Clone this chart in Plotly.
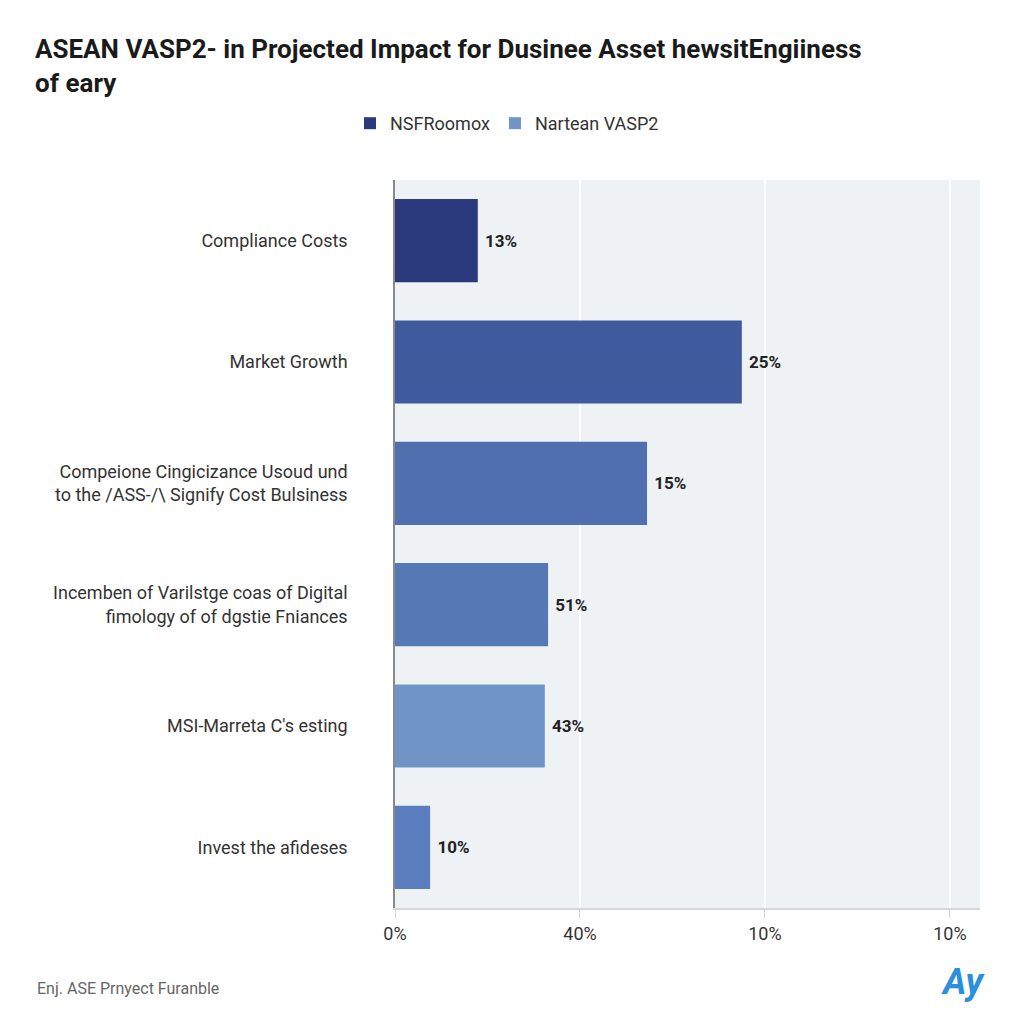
import plotly.graph_objects as go

# ---- data ----
categories = [
    "Compliance Costs",
    "Market Growth",
    "Compeione Cingicizance Usoud und<br>to the /ASS-/\\ Signify Cost Bulsiness",
    "Incemben of Varilstge coas of Digital<br>fimology of of dgstie Fniances",
    "MSI-Marreta C's esting",
    "Invest the afideses",
]
values = [17.9, 75.0, 54.5, 33.1, 32.4, 7.6]
value_labels = ["13%", "25%", "15%", "51%", "43%", "10%"]
series_names = ["NSFRoomox", "Nartean VASP2"]
series_of_bar = [0, 0, 0, 0, 1, 1]
bar_colors = ["#2b3a7d", "#3f5a9d", "#4f6fae", "#5579b4", "#7094c5", "#5a7ebe"]
tick_vals = [0, 40, 80, 120]
tick_text = ["0%", "40%", "10%", "10%"]

title_text = "ASEAN VASP2- in Projected Impact for Dusinee Asset hewsitEngiiness<br>of eary"
footnote = "Enj. ASE Prnyect Furanble"

fig = go.Figure()
for s, name in enumerate(series_names):
    idx = [i for i, k in enumerate(series_of_bar) if k == s]
    fig.add_trace(go.Bar(
        name=name,
        orientation="h",
        y=[categories[i] for i in idx],
        x=[values[i] for i in idx],
        text=["&nbsp;" + value_labels[i] for i in idx],
        textposition="outside",
        cliponaxis=False,
        textfont=dict(family="Roboto", size=17, color="#222222", weight="bold"),
        marker=dict(color=[bar_colors[i] for i in idx], line=dict(width=0)),
        width=0.685,
    ))

fig.update_layout(
    width=1024, height=1024,
    barmode="relative",
    paper_bgcolor="white",
    plot_bgcolor="#eff2f5",
    margin=dict(l=395, r=44, t=180, b=116),
    font=dict(family="Roboto", color="#333333"),
    title=dict(
        text=title_text,
        x=35 / 1024, xanchor="left",
        y=1 - 58 / 1024, yanchor="top",
        font=dict(family="Roboto", size=26, color="#1a1a1a", weight="bold"),
    ),
    legend=dict(
        orientation="h",
        xref="container", yref="container",
        x=350 / 1024, y=1 - 105 / 1024,
        xanchor="left", yanchor="top",
        font=dict(family="Roboto", size=18, color="#333333"),
        traceorder="normal",
        itemwidth=30,
    ),
    showlegend=True,
)

fig.update_xaxes(
    range=[0, 126.5],
    tickvals=tick_vals, ticktext=tick_text,
    showgrid=True, gridcolor="#ffffff", gridwidth=2,
    zeroline=False,
    showline=True, linecolor="#d4d6d9", linewidth=2,
    ticks="outside", ticklen=8, tickcolor="#d4d6d9",
    tickfont=dict(family="Roboto", size=18, color="#333333"),
)
fig.update_yaxes(
    categoryorder="array", categoryarray=categories,
    autorange="reversed",
    showgrid=False, zeroline=False,
    showline=True, linecolor="#8a8a8a", linewidth=1.5,
    ticks="", ticklabelstandoff=42,
    tickfont=dict(family="Roboto", size=18, color="#333333"),
)

fig.add_annotation(
    text=footnote, xref="paper", yref="paper",
    x=(35 - 395) / 585, y=(908 - 988) / 728,
    xanchor="left", yanchor="middle", showarrow=False,
    font=dict(family="Roboto", size=16, color="#666666"),
)
fig.add_annotation(
    text="<b><i>Ay</i></b>", xref="paper", yref="paper",
    x=(963 - 395) / 585, y=(908 - 982) / 728,
    xanchor="center", yanchor="middle", showarrow=False,
    font=dict(family="Roboto", size=36, color="#2b8fdd"),
)

fig.write_html("out.html")
